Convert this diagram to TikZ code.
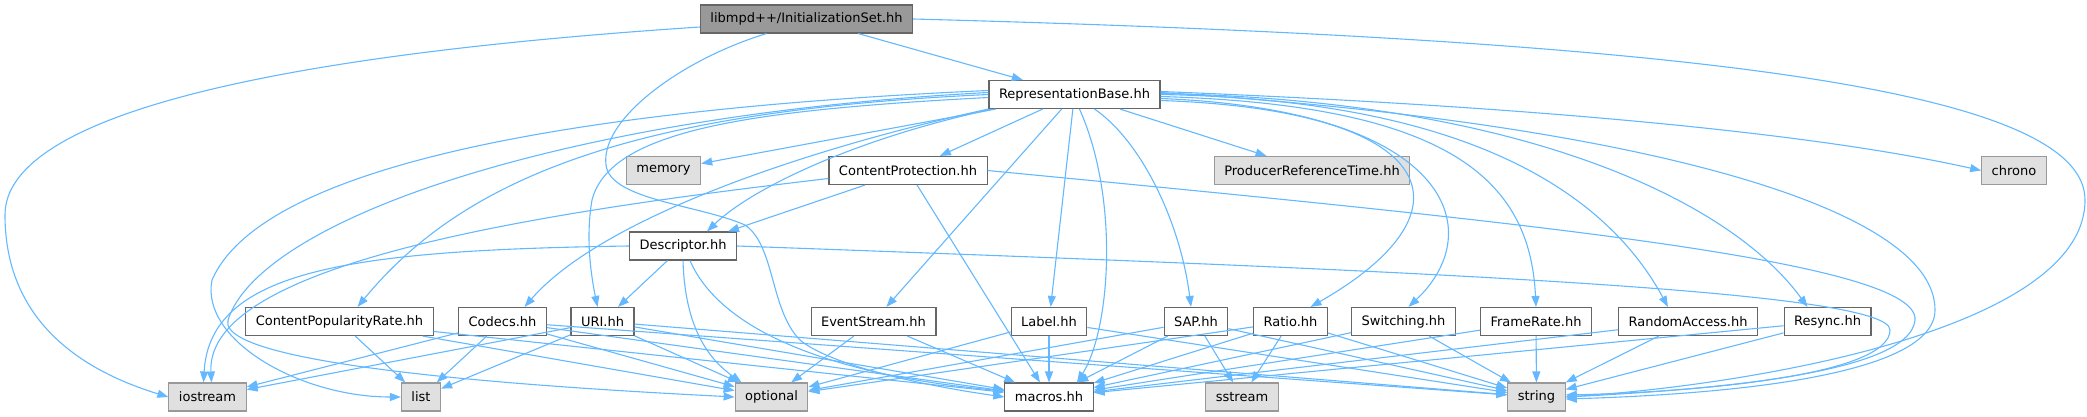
\documentclass[tikz,border=0pt]{standalone}
\usepackage{fontspec}
\setmainfont{DejaVu Sans}
\usetikzlibrary{arrows.meta}

\definecolor{edgeblue}{HTML}{63B8FF}
\definecolor{boxline}{HTML}{666666}
\definecolor{extline}{HTML}{999999}
\definecolor{extfill}{HTML}{E0E0E0}
\definecolor{rootfill}{HTML}{999999}

\tikzset{
  file/.style={draw=boxline, fill=white, line width=1.1pt, minimum height=28pt,
    inner xsep=10pt, font=\fontsize{13}{15}\selectfont},
  sysfile/.style={file, draw=extline, fill=extfill},
  rootfile/.style={file, fill=rootfill},
  dep/.style={draw=edgeblue, line width=1.1pt, -{Triangle[length=11pt,width=8pt]}},
}

\begin{document}
\begin{tikzpicture}[x=1pt, y=-1pt]
        \useasboundingbox (0,0) rectangle (2087,417);
        %% Files, row by row.
        \node[rootfile] (init) at (806.5,19) {libmpd++/InitializationSet.hh};
        \node[file] (rb) at (1074.5,94.5) {RepresentationBase.hh};
        \node[sysfile] (memory) at (663.5,170.5) {memory};
        \node[file] (cp) at (908,170.5) {ContentProtection.hh};
        \node[sysfile] (prt) at (1312,170.5) {ProducerReferenceTime.hh};
        \node[sysfile] (chrono) at (2014,170.5) {chrono};
        \node[file] (desc) at (683,246) {Descriptor.hh};
        \node[file] (cpr) at (339.5,321.5) {ContentPopularityRate.hh};
        \node[file] (codecs) at (502.5,321.5) {Codecs.hh};
        \node[file] (uri) at (602.5,321.5) {URI.hh};
        \node[file] (events) at (873.5,321.5) {EventStream.hh};
        \node[file] (label) at (1049,321.5) {Label.hh};
        \node[file] (sap) at (1196,321.5) {SAP.hh};
        \node[file] (ratio) at (1290.5,321.5) {Ratio.hh};
        \node[file] (switching) at (1403.5,321.5) {Switching.hh};
        \node[file] (framerate) at (1536,321.5) {FrameRate.hh};
        \node[file] (randacc) at (1688,321.5) {RandomAccess.hh};
        \node[file] (resync) at (1827.5,321.5) {Resync.hh};
        \node[sysfile] (iostream) at (207.5,397) {iostream};
        \node[sysfile] (list) at (421,397) {list};
        \node[sysfile] (optional) at (771.5,397) {optional};
        \node[file] (macros) at (1049,397) {macros.hh};
        \node[sysfile] (sstream) at (1242,397) {sstream};
        \node[sysfile] (string) at (1536.5,397) {string};

        %% InitializationSet.hh
        \draw[dep] (init) -- (rb);
        \draw[dep] ([yshift=-8pt]init.west) .. controls (200,60) and (5,130) .. (5,215)
          .. controls (5,320) and (80,370) .. (iostream.west);
        \draw[dep] ([xshift=-40pt]init.south) .. controls (680,60) and (600,120) .. (606,165)
          .. controls (610,200) and (700,205) .. (745,225)
          .. controls (775,245) and (770,310) .. (800,340)
          .. controls (830,365) and (920,385) .. (macros.west);
        \draw[dep] (init.east) .. controls (1700,40) and (2085,90) .. (2085,200)
          .. controls (2085,330) and (1750,385) .. (string.east);

        %% RepresentationBase.hh
        \draw[dep] (rb) -- (memory);
        \draw[dep] (rb) -- (cp);
        \draw[dep] (rb) -- (prt);
        \draw[dep] (rb) -- (events);
        \draw[dep] (rb) -- (label);
        \draw[dep] ([yshift=3pt]rb.east) .. controls (1500,105) and (1800,130) .. (chrono.west);
        \draw[dep] ([xshift=5pt]rb.south) .. controls (1120,200) and (1110,330) .. ([xshift=28pt]macros.north);
        \draw[dep] ([xshift=20pt]rb.south) .. controls (1140,140) and (1180,220) .. ([xshift=-5pt]sap.north);
        \draw[dep] ([yshift=-6pt]rb.east) .. controls (1440,110) and (1480,210) .. ([xshift=20pt]ratio.north);
        \draw[dep] ([yshift=-4pt]rb.east) .. controls (1450,110) and (1490,230) .. ([xshift=5pt]switching.north);
        \draw[dep] ([yshift=-2pt]rb.east) .. controls (1450,105) and (1530,180) .. (framerate.north);
        \draw[dep] (rb.east) .. controls (1480,100) and (1610,200) .. ([xshift=-20pt]randacc.north);
        \draw[dep] ([yshift=1pt]rb.east) .. controls (1520,100) and (1730,200) .. ([xshift=-20pt]resync.north);
        \draw[dep] ([yshift=2pt]rb.east) .. controls (1600,120) and (1935,200) .. (1935,310)
          .. controls (1935,380) and (1700,395) .. ([yshift=-2pt]string.east);
        \draw[dep] ([yshift=4pt]rb.west) .. controls (550,110) and (260,170) .. (212,280)
          .. controls (200,340) and (300,397) .. (list.west);
        \draw[dep] ([yshift=2pt]rb.west) .. controls (560,115) and (260,220) .. (228,320)
          .. controls (215,370) and (600,390) .. (optional.west);
        \draw[dep] (rb.west) .. controls (650,110) and (470,170) .. ([xshift=18pt]cpr.north);
        \draw[dep] ([yshift=-3pt]rb.west) .. controls (750,110) and (610,130) .. (592,200)
          .. controls (585,240) and (592,280) .. ([xshift=-5pt]uri.north);
        \draw[dep] (rb.south west) .. controls (800,150) and (600,220) .. ([xshift=22pt]codecs.north);
        \draw[dep] ([xshift=4pt]rb.south west) .. controls (850,140) and (750,190) .. ([xshift=24pt]desc.north);

        %% ContentProtection.hh
        \draw[dep] (cp) -- ([xshift=45pt]desc.north);
        \draw[dep] (cp) -- (macros);
        \draw[dep] ([yshift=-8pt]cp.west) .. controls (560,210) and (205,260) .. ([xshift=4pt]iostream.north);
        \draw[dep] (cp.east) .. controls (1500,220) and (1920,260) .. (1915,320)
          .. controls (1910,375) and (1700,390) .. (string.east);

        %% Descriptor.hh
        \draw[dep] (desc) -- (uri);
        \draw[dep] (desc.west) .. controls (350,250) and (210,270) .. ([xshift=-4pt]iostream.north);
        \draw[dep] (desc.south) .. controls (685,330) and (710,360) .. ([xshift=-30pt]optional.north);
        \draw[dep] ([xshift=7pt]desc.south) .. controls (720,330) and (830,375) .. ([yshift=6pt]macros.west);
        \draw[dep] (desc.east) .. controls (1400,270) and (1890,290) .. (1890,330)
          .. controls (1890,375) and (1700,392) .. ([yshift=2pt]string.east);

        %% the small headers
        \draw[dep] (cpr) -- (list);
        \draw[dep] (cpr) -- (optional);
        \draw[dep] (cpr) -- (macros);
        \draw[dep] (codecs) -- (iostream);
        \draw[dep] (codecs) -- (list);
        \draw[dep] (codecs) -- (optional);
        \draw[dep] (codecs) -- (macros);
        \draw[dep] (codecs) -- (string);
        \draw[dep] (uri) -- (iostream);
        \draw[dep] (uri) -- (list);
        \draw[dep] (uri) -- (optional);
        \draw[dep] (uri) -- (macros);
        \draw[dep] (uri) -- (string);
        \draw[dep] (events) -- (optional);
        \draw[dep] (events) -- (macros);
        \draw[dep] (label) -- (optional);
        \draw[dep] (label) -- (macros);
        \draw[dep] (label) -- (string);
        \draw[dep] (sap) -- (optional);
        \draw[dep] (sap) -- (macros);
        \draw[dep] (sap) -- (sstream);
        \draw[dep] (sap) -- (string);
        \draw[dep] (ratio) -- (optional);
        \draw[dep] (ratio) -- (macros);
        \draw[dep] (ratio) -- (sstream);
        \draw[dep] (ratio) -- (string);
        \draw[dep] (switching) -- (macros);
        \draw[dep] (switching) -- (string);
        \draw[dep] (framerate) -- (macros);
        \draw[dep] (framerate) -- (string);
        \draw[dep] (randacc) -- (macros);
        \draw[dep] (randacc) -- (string);
        \draw[dep] (resync) -- (macros);
        \draw[dep] (resync) -- (string);
\end{tikzpicture}
\end{document}
